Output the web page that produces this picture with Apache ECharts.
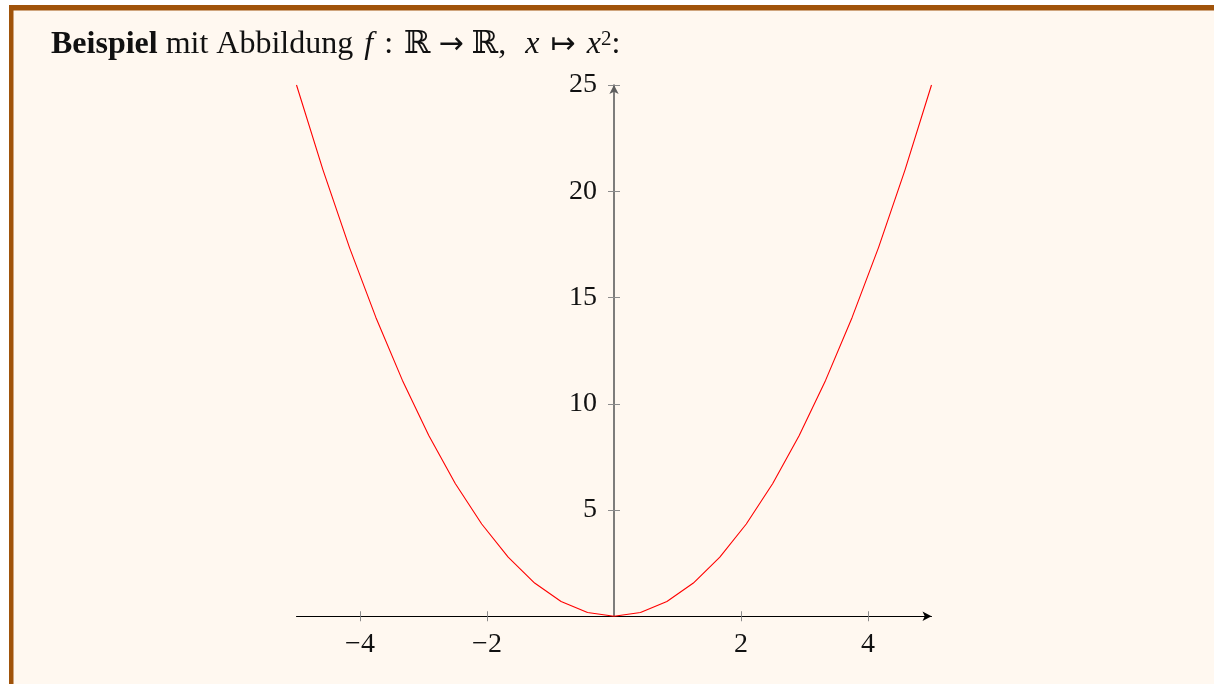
<!DOCTYPE html>
<html>
<head>
<meta charset="utf-8">
<title>Beispiel x²</title>
<script src="https://cdn.jsdelivr.net/npm/echarts@6/dist/echarts.min.js"></script>
<style>
  html, body { margin: 0; padding: 0; background: #ffffff; }
  #chart { width: 1214px; height: 684px; }
</style>
</head>
<body>
<div id="chart"></div>
<script>
// Sample points of f(x) = x^2 on [-5, 5] (25 samples)
const xs = [-5, -4.5833, -4.1667, -3.75, -3.3333, -2.9167, -2.5, -2.0833, -1.6667, -1.25, -0.8333, -0.4167,
            0, 0.4167, 0.8333, 1.25, 1.6667, 2.0833, 2.5, 2.9167, 3.3333, 3.75, 4.1667, 4.5833, 5];
const ys = [25, 21.007, 17.361, 14.063, 11.111, 8.507, 6.25, 4.34, 2.778, 1.5625, 0.694, 0.174,
            0, 0.174, 0.694, 1.5625, 2.778, 4.34, 6.25, 8.507, 11.111, 14.063, 17.361, 21.007, 25];

// Tick positions shown on each axis
const xTicksNeg = [-4, -2];
const xTicksPos = [2, 4];
const xTicks = xTicksNeg.concat(xTicksPos);
const yTicks = [5, 10, 15, 20, 25];

const FONT = "'Liberation Serif', 'DejaVu Serif', serif";
const TEXT = '#111111';
const TICK = '#8c8c8c';
const minus = v => String(v).replace('-', '\u2212');

const HS = 32; // heading font size
// {s| } is a small extra gap, like the spacing TeX puts around math relations
const headingText =
  '{b|Beispiel} mit Abbildung{s| } {i|f}{s| } :{s| } ℝ {a|→} ℝ,{s| }  {i|x}{s| } {a|↦}{s| } {i|x}{sup|2}:';

const chart = echarts.init(document.getElementById('chart'), null, { renderer: 'canvas' });

const T = 85, B = 67.75;

chart.setOption({
  backgroundColor: '#ffffff',
  animation: false,
  graphic: [
    // cream panel
    { type: 'rect', shape: { x: 9, y: 5, width: 1205, height: 679 }, style: { fill: '#fff8f0' }, z: -10, silent: true },
    // brown frame (top and left)
    { type: 'rect', shape: { x: 9, y: 5, width: 1205, height: 5.5 }, style: { fill: '#a0530a' }, z: -9, silent: true },
    { type: 'rect', shape: { x: 9, y: 5, width: 4.5, height: 679 }, style: { fill: '#a0530a' }, z: -9, silent: true }
  ],
  title: {
    left: 51,
    top: 29,
    padding: 0,
    text: headingText,
    textStyle: {
      fontFamily: FONT, fontSize: HS, fontWeight: 'normal', color: TEXT,
      rich: {
        b: { fontFamily: FONT, fontSize: HS, fontWeight: 'bold', color: TEXT },
        i: { fontFamily: FONT, fontSize: HS, fontStyle: 'italic', color: TEXT },
        a: { fontFamily: "'DejaVu Sans', sans-serif", fontSize: 30, color: TEXT },
        s: { fontFamily: FONT, fontSize: HS, width: 3 },
        sup: { fontFamily: FONT, fontSize: 21, color: TEXT, verticalAlign: 'top', lineHeight: 22 }
      }
    }
  },
  grid: [
    // full plot area
    { left: 296.5, right: 282.5, top: T, bottom: B },
    // right half: its left edge is x = 0, carries the y axis
    { left: 614, right: 282.5, top: T, bottom: B },
    // left half: its right edge is x = 0, carries the other half of the y ticks
    { left: 296.5, right: 600, top: T, bottom: B }
  ],
  xAxis: [
    {
      type: 'value', gridIndex: 0, min: -5, max: 5, position: 'bottom',
      axisLine: {
        onZero: false, symbol: ['none', 'arrow'], symbolSize: [7, 9],
        lineStyle: { color: '#000', width: 1 }
      },
      axisTick: { customValues: xTicks, length: 5, lineStyle: { color: TICK, width: 1 } },
      axisLabel: {
        customValues: xTicks, formatter: minus, margin: 14,
        fontFamily: FONT, fontSize: 28, color: TEXT
      },
      splitLine: { show: false }
    },
    {
      type: 'value', gridIndex: 1, min: 0, max: 5, position: 'bottom',
      axisLine: { show: false, onZero: false },
      axisTick: { customValues: xTicksPos, inside: true, length: 5, lineStyle: { color: TICK, width: 1 } },
      axisLabel: { show: false },
      splitLine: { show: false }
    },
    {
      type: 'value', gridIndex: 2, min: -5, max: 0, position: 'bottom',
      axisLine: { show: false, onZero: false },
      axisTick: { customValues: xTicksNeg, inside: true, length: 5, lineStyle: { color: TICK, width: 1 } },
      axisLabel: { show: false },
      splitLine: { show: false }
    }
  ],
  yAxis: [
    {
      type: 'value', gridIndex: 0, min: 0, max: 25, interval: 5,
      axisLine: { show: false, onZero: false },
      axisTick: { show: false },
      axisLabel: { show: false },
      splitLine: { show: false }
    },
    {
      type: 'value', gridIndex: 1, min: 0, max: 25, interval: 5, position: 'left',
      axisLine: {
        onZero: false, symbol: ['none', 'arrow'], symbolSize: [7, 9],
        lineStyle: { color: '#5e5e5e', width: 1.6 }
      },
      axisTick: { customValues: yTicks, length: 6, lineStyle: { color: TICK, width: 1 } },
      axisLabel: {
        customValues: yTicks, margin: 17,
        fontFamily: FONT, fontSize: 28, color: TEXT
      },
      splitLine: { show: false }
    },
    {
      type: 'value', gridIndex: 2, min: 0, max: 25, interval: 5, position: 'right',
      axisLine: { show: false, onZero: false },
      axisTick: { customValues: yTicks, length: 6, lineStyle: { color: TICK, width: 1 } },
      axisLabel: { show: false },
      splitLine: { show: false }
    }
  ],
  series: [
    {
      type: 'line',
      xAxisIndex: 0, yAxisIndex: 0,
      data: xs.map((x, i) => [x, ys[i]]),
      showSymbol: false,
      symbol: 'none',
      smooth: false,
      clip: false,
      lineStyle: { color: '#ff0000', width: 1.1 },
      z: 1
    }
  ]
});
</script>
</body>
</html>
